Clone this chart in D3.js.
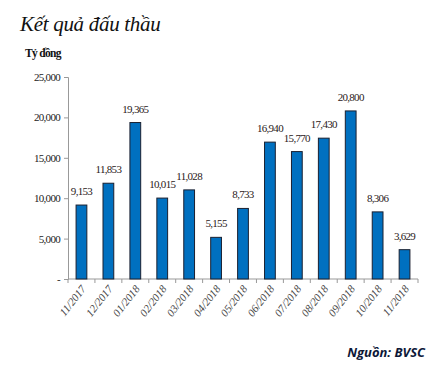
<!DOCTYPE html>
<html><head><meta charset="utf-8">
<script src="https://cdn.jsdelivr.net/npm/d3@7"></script>
<style>body{margin:0;background:#fff}svg{display:block}</style>
</head><body>
<script>
const categories = ["11/2017","12/2017","01/2018","02/2018","03/2018","04/2018","05/2018","06/2018","07/2018","08/2018","09/2018","10/2018","11/2018"];
const values = [9153,11853,19365,10015,11028,5155,8733,16940,15770,17430,20800,8306,3629];
const yTicks = [0,5000,10000,15000,20000,25000];

const W=441,H=375;
const svg=d3.select("body").append("svg").attr("width",W).attr("height",H);
const serif="'Liberation Serif','Times New Roman',serif";
const x=d3.scaleBand().domain(categories).range([68,418]).paddingInner(0.6).paddingOuter(0.3);
const xb=d3.scaleBand().domain(categories).range([68,418]);
const y=d3.scaleLinear().domain([0,25000]).range([279,77]);

svg.append("text").attr("x",20).attr("y",31).attr("font-family",serif).attr("font-style","italic").attr("font-size",21).attr("letter-spacing",-0.3).attr("fill","#111").text("Kết quả đấu thầu");
svg.append("text").attr("x",25).attr("y",57).attr("font-family",serif).attr("font-weight","bold").attr("font-size",11.5).attr("letter-spacing",-0.7).attr("fill","#111").text("Tỷ đồng");

// y axis
const ya=svg.append("g").attr("transform","translate(68,0)").call(d3.axisLeft(y).tickValues(yTicks).tickSize(4).tickFormat(d=>d===0?"-":d3.format(",")(d)));
ya.select(".domain").attr("stroke","#999");
ya.selectAll(".tick line").attr("stroke","#999");
ya.selectAll("text").attr("font-family",serif).attr("font-size",11).attr("letter-spacing",-0.7).attr("fill","#222").attr("x",-8);

// x axis
const xa=svg.append("g").attr("transform","translate(0,279)");
xa.append("line").attr("x1",68).attr("x2",418).attr("stroke","#999");
xa.selectAll("line.t").data(categories).enter().append("line").attr("class","t")
 .attr("x1",d=>xb(d)+xb.bandwidth()).attr("x2",d=>xb(d)+xb.bandwidth()).attr("y1",0).attr("y2",4).attr("stroke","#999");
xa.append("line").attr("x1",68).attr("x2",68).attr("y1",0).attr("y2",4).attr("stroke","#999");
xa.selectAll("text").data(categories).enter().append("text")
 .attr("transform",d=>`translate(${xb(d)+xb.bandwidth()/2+5},${10}) rotate(-52)`)
 .attr("text-anchor","end").attr("font-family",serif).attr("font-style","italic").attr("font-size",11).attr("fill","#444").text(d=>d);

// bars
svg.selectAll("rect.bar").data(values).enter().append("rect").attr("class","bar")
 .attr("x",(d,i)=>x(categories[i])).attr("width",x.bandwidth())
 .attr("y",d=>y(d)).attr("height",d=>y(0)-y(d))
 .attr("fill","#0070C0").attr("stroke","#1a2030").attr("stroke-width",1);

svg.selectAll("text.lbl").data(values).enter().append("text").attr("class","lbl")
 .attr("x",(d,i)=>x(categories[i])+x.bandwidth()/2).attr("y",d=>y(d)-10)
 .attr("text-anchor","middle").attr("font-family",serif).attr("font-size",11).attr("letter-spacing",-0.7).attr("fill","#2a2020")
 .text(d=>d3.format(",")(d));

svg.append("text").attr("x",425).attr("y",357).attr("text-anchor","end").attr("font-family","'Open Sans','DejaVu Sans',sans-serif").attr("font-weight","bold").attr("font-style","italic").attr("font-size",13).attr("fill","#0d1838").text("Nguồn: BVSC");
</script>
</body></html>
